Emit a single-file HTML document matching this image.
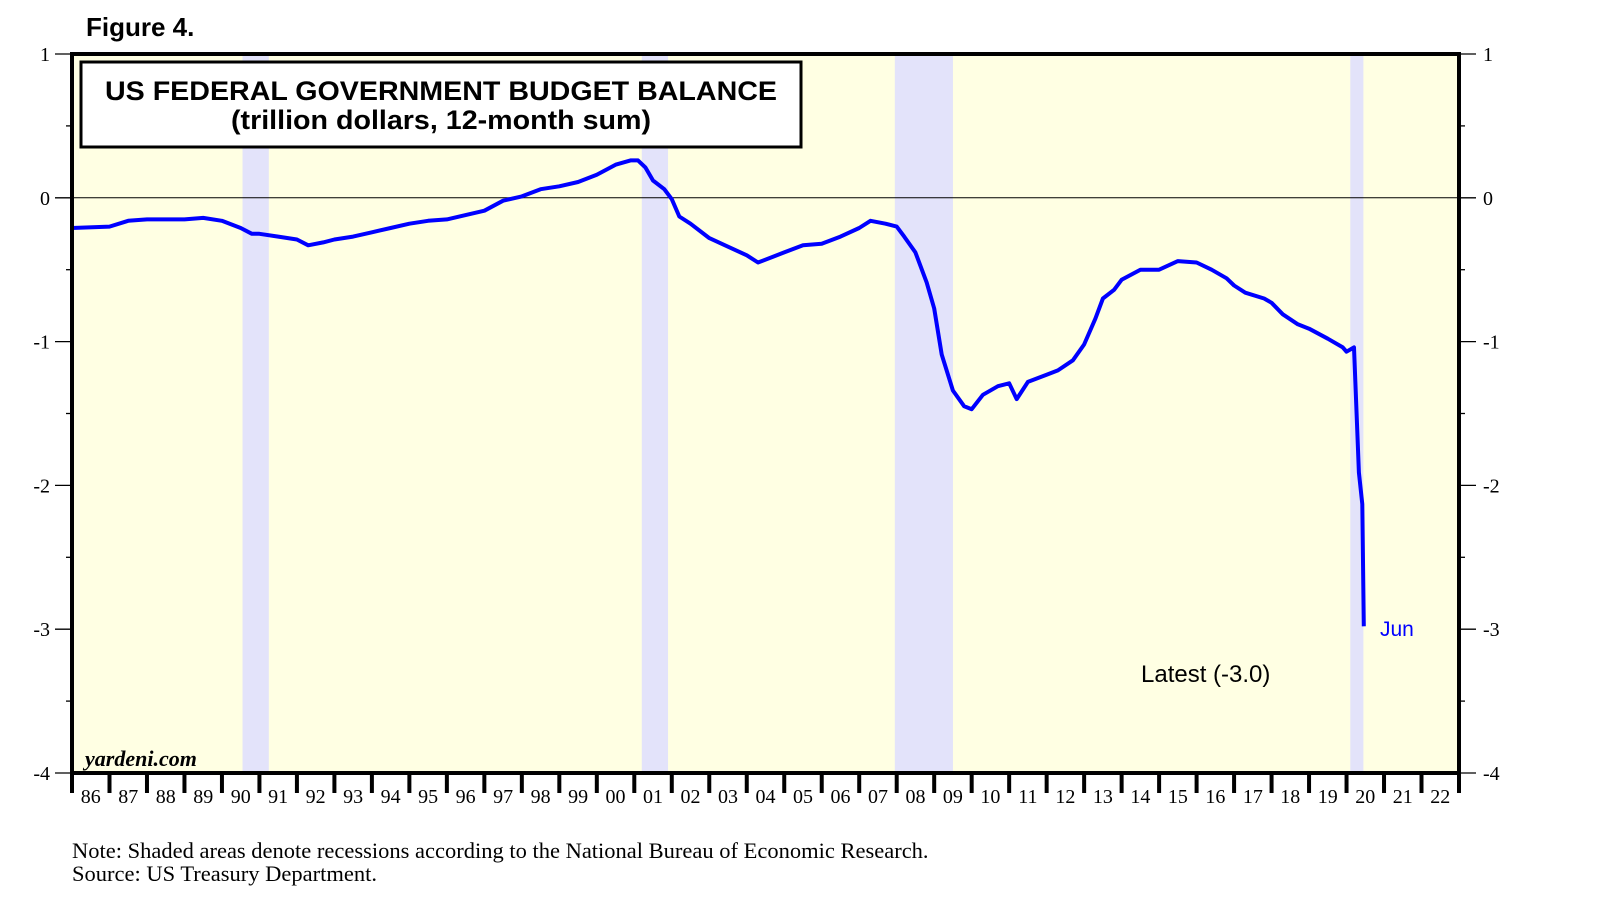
<!DOCTYPE html>
<html><head><meta charset="utf-8"><style>
html,body{margin:0;padding:0;background:#fff}
svg{display:block}
</style></head><body>
<svg id="chart" width="1610" height="922" xmlns="http://www.w3.org/2000/svg" font-family="Liberation Serif, serif"></svg>
<script>
const years = [1986,1987,1987.5,1988,1989,1989.5,1990,1990.5,1990.8,1991,1991.5,1992,1992.3,1992.7,1993,1993.5,1994,1994.5,1995,1995.5,1996,1996.5,1997,1997.5,1998,1998.5,1999,1999.5,2000,2000.5,2000.9,2001.1,2001.3,2001.5,2001.8,2002,2002.2,2002.5,2003,2003.5,2004,2004.3,2004.7,2005,2005.5,2006,2006.5,2007,2007.3,2007.7,2008,2008.2,2008.5,2008.8,2009,2009.2,2009.5,2009.8,2010,2010.3,2010.7,2011,2011.2,2011.5,2012,2012.3,2012.7,2013,2013.3,2013.5,2013.8,2014,2014.5,2015,2015.5,2016,2016.4,2016.8,2017,2017.3,2017.8,2018,2018.3,2018.7,2019,2019.5,2019.9,2020.0,2020.2,2020.33,2020.42,2020.46];
const balance = [-0.21,-0.2,-0.16,-0.15,-0.15,-0.14,-0.16,-0.21,-0.25,-0.25,-0.27,-0.29,-0.33,-0.31,-0.29,-0.27,-0.24,-0.21,-0.18,-0.16,-0.15,-0.12,-0.09,-0.02,0.01,0.06,0.08,0.11,0.16,0.23,0.26,0.26,0.21,0.12,0.06,-0.01,-0.13,-0.18,-0.28,-0.34,-0.4,-0.45,-0.41,-0.38,-0.33,-0.32,-0.27,-0.21,-0.16,-0.18,-0.2,-0.27,-0.38,-0.59,-0.77,-1.09,-1.34,-1.45,-1.47,-1.37,-1.31,-1.29,-1.4,-1.28,-1.23,-1.2,-1.13,-1.02,-0.84,-0.7,-0.64,-0.57,-0.5,-0.5,-0.44,-0.45,-0.5,-0.56,-0.61,-0.66,-0.7,-0.73,-0.81,-0.88,-0.91,-0.98,-1.04,-1.07,-1.04,-1.91,-2.13,-2.98];
const recessionStart = [1990.55,2001.2,2007.95,2020.1];
const recessionEnd = [1991.25,2001.9,2009.5,2020.45];
const yTicks = [1,0,-1,-2,-3,-4];
const xLabels = ["86","87","88","89","90","91","92","93","94","95","96","97","98","99","00","01","02","03","04","05","06","07","08","09","10","11","12","13","14","15","16","17","18","19","20","21","22"];

const L=72,R=1459,T=54,B=773;
const X0=1986,X1=2023,Y0=-4,Y1=1;
const xs=v=>L+(v-X0)/(X1-X0)*(R-L);
const ys=v=>B-(v-Y0)/(Y1-Y0)*(B-T);
const svg=document.getElementById('chart');
const NS='http://www.w3.org/2000/svg';
function mk(tag,attrs,parent){const e=document.createElementNS(NS,tag);for(const k in attrs)e.setAttribute(k,attrs[k]);(parent||svg).appendChild(e);return e;}

let bg=mk('rect',{x:L,y:T,width:R-L,height:B-T,fill:'#ffffe3'});


recessionStart.forEach((s,i)=>{
  const r=mk('rect',{x:xs(s),y:T,width:xs(recessionEnd[i])-xs(s),height:B-T,fill:'#e3e3fa'});
  
  
});
let zl=mk('line',{x1:L,x2:R,y1:ys(0),y2:ys(0),stroke:'#000','stroke-width':1});



const tb=mk('g',{});


mk('rect',{x:81,y:62,width:720,height:85,fill:'#fff',stroke:'#000','stroke-width':3},tb);
let t1=mk('text',{x:441,y:100,'text-anchor':'middle','font-family':'Liberation Sans, sans-serif','font-weight':'bold','font-size':27,textLength:672,lengthAdjust:'spacingAndGlyphs'},tb);t1.textContent='US FEDERAL GOVERNMENT BUDGET BALANCE';
let t2=mk('text',{x:441,y:129,'text-anchor':'middle','font-family':'Liberation Sans, sans-serif','font-weight':'bold','font-size':27,textLength:420,lengthAdjust:'spacingAndGlyphs'},tb);t2.textContent='(trillion dollars, 12-month sum)';

let d='';years.forEach((y,i)=>{d+=(i?'L':'M')+xs(y).toFixed(1)+','+ys(balance[i]).toFixed(1);});
let ln=mk('path',{d:d,fill:'none',stroke:'#0000ff','stroke-width':4,'stroke-linejoin':'round'});



let fr=mk('rect',{x:L,y:T,width:R-L,height:B-T,fill:'none',stroke:'#000','stroke-width':4});



yTicks.forEach(v=>{
  const y=ys(v);
  mk('line',{x1:L-17,x2:L,y1:y,y2:y,stroke:'#000','stroke-width':1.3});
  mk('line',{x1:R,x2:R+17,y1:y,y2:y,stroke:'#000','stroke-width':1.3});
  let a=mk('text',{x:L-22,y:y+7,'text-anchor':'end','font-size':20});a.textContent=v;
  
  
  let b=mk('text',{x:R+24,y:y+7,'text-anchor':'start','font-size':20});b.textContent=v;
  
  
  if(v>Y0){const h=ys(v-0.5);
    mk('line',{x1:L-6,x2:L,y1:h,y2:h,stroke:'#000','stroke-width':1.3});
    mk('line',{x1:R,x2:R+6,y1:h,y2:h,stroke:'#000','stroke-width':1.3});}
});
for(let i=0;i<=xLabels.length;i++){
  const x=xs(X0+i);
  mk('line',{x1:x,x2:x,y1:B,y2:B+20,stroke:'#000','stroke-width':4});
  if(i<xLabels.length){
    let t=mk('text',{x:xs(X0+i+0.5),y:B+30,'text-anchor':'middle','font-size':20});t.textContent=xLabels[i];
    
    
  }
}
function txt(s,attrs,name){const t=mk('text',attrs);t.textContent=s;return t;}
txt('Figure 4.',{x:86,y:36,'font-family':'Liberation Sans, sans-serif','font-weight':'bold','font-size':26},'figure-label');
txt('yardeni.com',{x:85,y:766,'font-style':'italic','font-weight':'bold','font-size':22},'source-watermark');
txt('Jun',{x:1380,y:636,'font-family':'Liberation Sans, sans-serif','font-size':21,fill:'#0000ff'},'latest-month-label');
txt('Latest (-3.0)',{x:1141,y:682,'font-family':'Liberation Sans, sans-serif','font-size':24},'latest-value-label');
txt('Note: Shaded areas denote recessions according to the National Bureau of Economic Research.',{x:72,y:858,'font-size':22.5},'note-text');
txt('Source: US Treasury Department.',{x:72,y:881,'font-size':22.5},'source-text');
</script>
</body></html>
